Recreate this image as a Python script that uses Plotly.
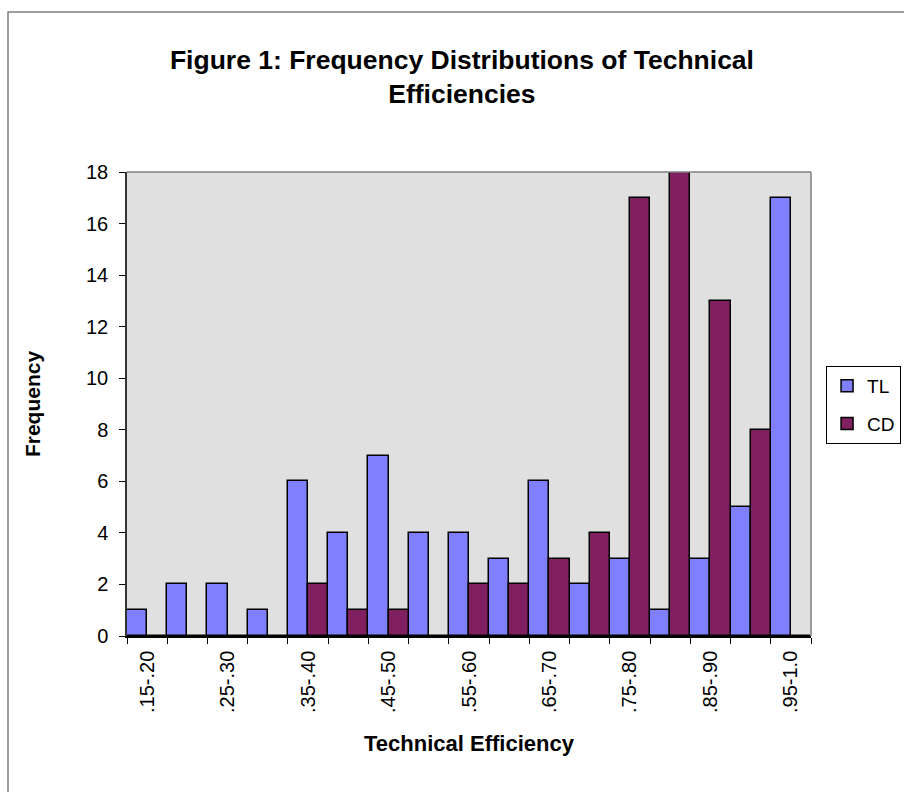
import plotly.graph_objects as go

categories = [".15-.20", ".20-.25", ".25-.30", ".30-.35", ".35-.40", ".40-.45",
              ".45-.50", ".50-.55", ".55-.60", ".60-.65", ".65-.70", ".70-.75",
              ".75-.80", ".80-.85", ".85-.90", ".90-.95", ".95-1.0"]
tl_values = [1, 2, 2, 1, 6, 4, 7, 4, 4, 3, 6, 2, 3, 1, 3, 5, 17]
cd_values = [0, 0, 0, 0, 2, 1, 1, 0, 2, 2, 3, 4, 17, 18, 13, 8, 0]
tick_text = [c if i % 2 == 0 else "" for i, c in enumerate(categories)]
y_ticks = [0, 2, 4, 6, 8, 10, 12, 14, 16, 18]

FONT = "Liberation Sans, Arial, sans-serif"

fig = go.Figure()
fig.add_trace(go.Bar(name="TL", x=categories, y=tl_values, legendgroup="TL",
                     marker=dict(color="#8080FF", line=dict(color="black", width=1.5))))
fig.add_trace(go.Bar(name="CD", x=categories, y=cd_values, legendgroup="CD",
                     marker=dict(color="#802060", line=dict(color="black", width=1.5))))

fig.update_layout(
    width=904, height=792,
    margin=dict(l=127, r=93, t=172, b=156, autoexpand=False),
    paper_bgcolor="white", plot_bgcolor="#E0E0E0",
    barmode="group", bargap=0, bargroupgap=0,
    font=dict(family=FONT, size=19, color="black"),
    title=dict(text="<b>Figure 1: Frequency Distributions of Technical<br>Efficiencies</b>",
               x=0.511, xanchor="center", y=0.913, yanchor="top",
               font=dict(family=FONT, size=26.5, color="black")),
    legend=dict(x=1.022, xanchor="left", y=0.582, yanchor="top",
                bordercolor="black", borderwidth=1, bgcolor="white",
                tracegroupgap=10, font=dict(size=19), itemwidth=30),
    showlegend=True,
)
fig.update_xaxes(
    type="category", tickmode="array", tickvals=categories, ticktext=tick_text,
    tickson="boundaries", ticks="outside", ticklen=6, tickcolor="black",
    tickangle=-90, showline=True, linecolor="black", linewidth=1.5,
    showgrid=False, tickfont=dict(size=20), ticklabelstandoff=5,
    title=dict(text="<b>Technical Efficiency</b>", font=dict(size=22), standoff=24),
)
fig.update_yaxes(
    range=[0, 18], tickvals=y_ticks, ticks="outside", ticklen=6, tickcolor="black",
    showline=True, linecolor="#333333", linewidth=1.5, showgrid=False, zeroline=False,
    tickfont=dict(size=20), ticklabelstandoff=7,
    title=dict(text="<b>Frequency</b>", font=dict(size=21), standoff=40),
)
# plot area frame (top/right in gray)
fig.add_shape(type="line", xref="paper", yref="paper", x0=0, x1=1, y0=1, y1=1,
              line=dict(color="#808080", width=1.5))
fig.add_shape(type="line", xref="paper", yref="paper", x0=1, x1=1, y0=0, y1=1,
              line=dict(color="#808080", width=1.5))
# outer chart border
fig.add_shape(type="rect", xref="paper", yref="paper",
              x0=(8 - 127) / 684, x1=(912 - 127) / 684,
              y0=(636 - 800) / 464, y1=(636 - 12) / 464,
              line=dict(color="#808080", width=1.5))

fig.write_html("out.html", config={"displayModeBar": False},
               post_script="document.body.style.margin='0';document.body.style.overflow='hidden';")
